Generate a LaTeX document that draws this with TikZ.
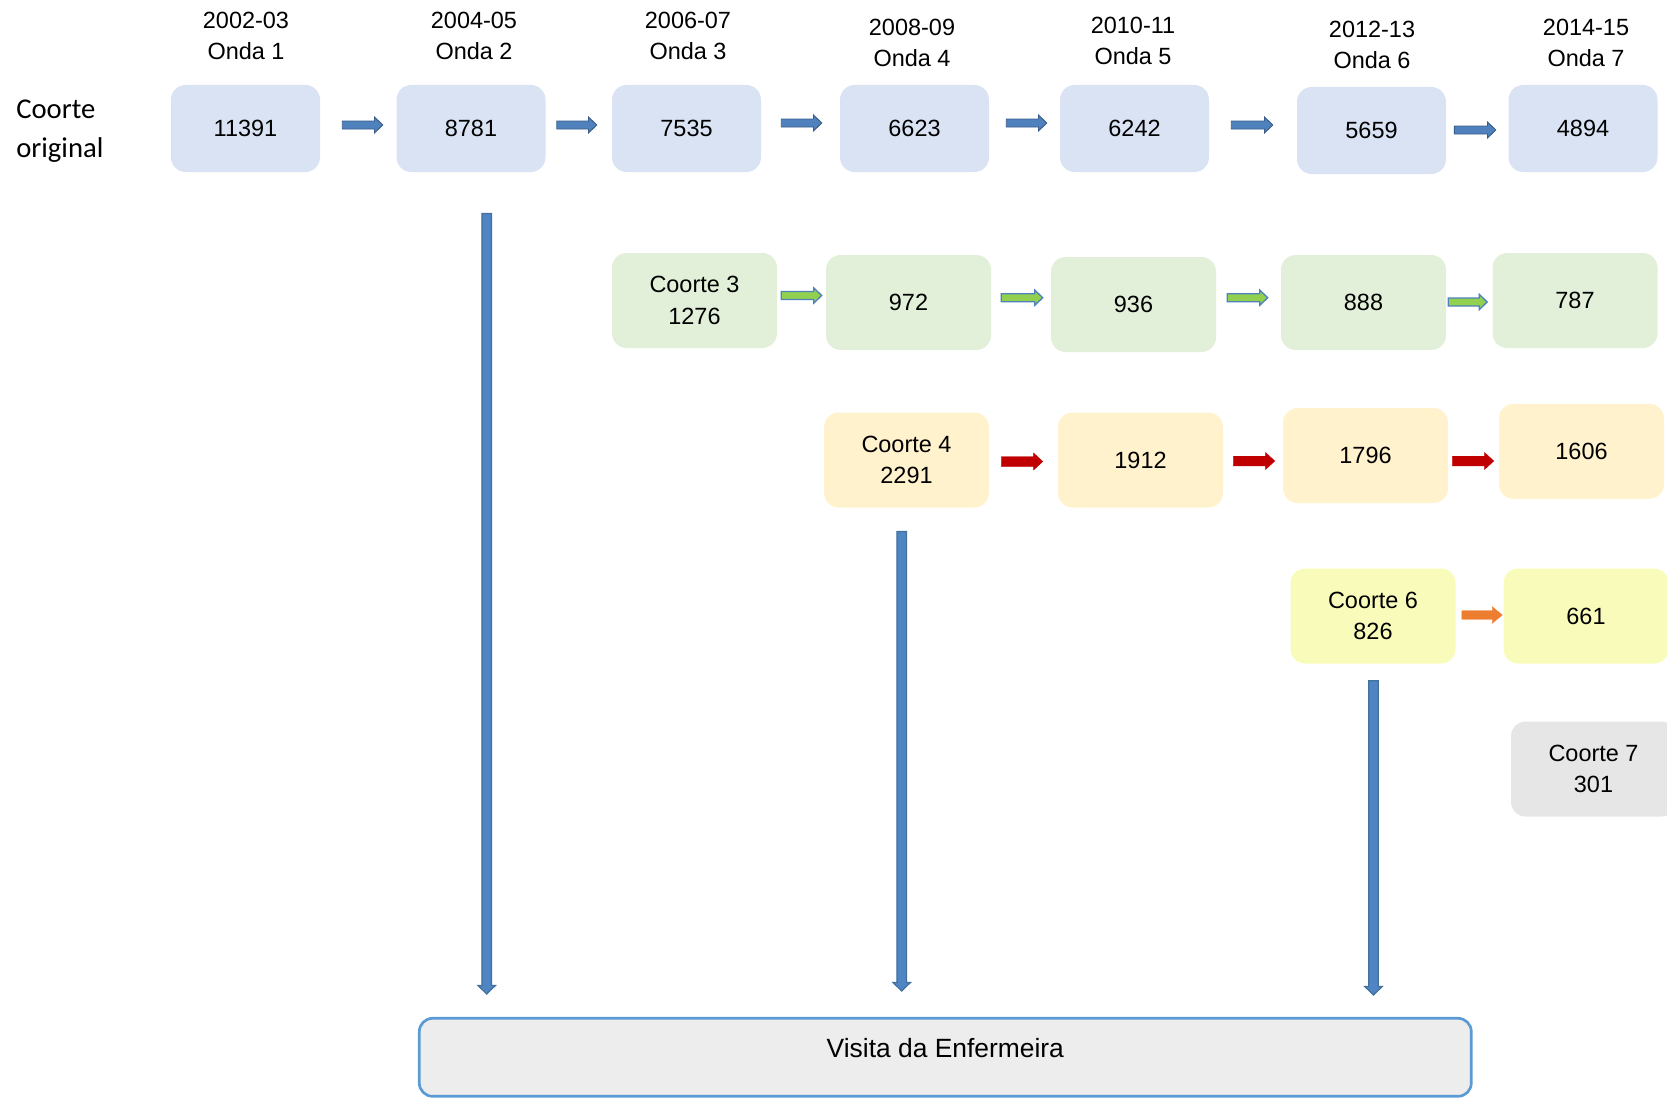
\documentclass[tikz,border=0pt]{standalone}
\usepackage{fontspec}
\setmainfont{Liberation Sans}
\newfontfamily\calib{Carlito}
\usetikzlibrary{calc}
\definecolor{topfill}{HTML}{DAE3F3}
\definecolor{greenfill}{HTML}{E2F0D9}
\definecolor{orangefill}{HTML}{FFF2CC}
\definecolor{yellowfill}{HTML}{F8FBB9}
\definecolor{grayfill}{HTML}{E6E6E6}
\definecolor{bottomfill}{HTML}{EDEDED}
\definecolor{bottomline}{HTML}{5B9BD5}
\definecolor{arrblue}{HTML}{4F81BD}
\definecolor{arrbluedark}{HTML}{385D8A}
\definecolor{arrgreen}{HTML}{92D050}
\definecolor{arrred}{HTML}{C00000}
\definecolor{arrorange}{HTML}{ED7D31}
\definecolor{varrfill}{HTML}{5085C4}
\definecolor{varrline}{HTML}{41719C}
\tikzset{
  harr/.style n args={3}{to path={let \p1=(\tikztostart), \p2=(\tikztotarget) in
    (\x1,\y1+#1) -- (\x2-#3,\y1+#1) -- (\x2-#3,\y1+#2) -- (\x2,\y1) -- (\x2-#3,\y1-#2) -- (\x2-#3,\y1-#1) -- (\x1,\y1-#1) -- cycle}},
  varr/.style n args={3}{to path={let \p1=(\tikztostart), \p2=(\tikztotarget) in
    (\x1-#1,\y1) -- (\x1-#1,\y2+#3) -- (\x1-#2,\y2+#3) -- (\x1,\y2) -- (\x1+#2,\y2+#3) -- (\x1+#1,\y2+#3) -- (\x1+#1,\y1) -- cycle}},
  bluearrow/.style={harr={3pt}{6pt}{6.2pt}, fill=arrblue, draw=arrbluedark, line width=0.7pt, line join=miter},
  greenarrow/.style={harr={3pt}{5.7pt}{6pt}, fill=arrgreen, draw=arrblue, line width=1pt, line join=miter},
  redarrow/.style={harr={3.6pt}{6.3pt}{6.8pt}, fill=arrred, draw=arrred, line width=0.3pt},
  orangearrow/.style={harr={3.2pt}{6.2pt}{7.5pt}, fill=arrorange, draw=arrorange, line width=0.3pt},
  downarrow/.style={varr={3.6pt}{6.5pt}{6.3pt}, fill=varrfill, draw=varrline, line width=0.9pt, line join=miter},
  txt/.style={font=\fontsize{17.6pt}{23.8pt}\selectfont, text=black, align=center, inner sep=0pt},
  box/.style={txt, rounded corners=11pt},
  topbox/.style={box, fill=topfill, minimum width=111.75pt, minimum height=65.25pt},
  cbox/.style={box, minimum width=123.75pt, minimum height=71.25pt},
  hdr/.style={txt},
}
\begin{document}
\begin{tikzpicture}[x=0.75pt,y=-0.75pt]
\clip (0,0) rectangle (1667,1099);
\useasboundingbox (0,0) rectangle (1667,1099);

% headers
\node[hdr] (h1) at (246,36) {2002-03\\Onda 1};
\node[hdr] (h2) at (474,36) {2004-05\\Onda 2};
\node[hdr] (h3) at (688,36) {2006-07\\Onda 3};
\node[hdr] (h4) at (912,43) {2008-09\\Onda 4};
\node[hdr] (h5) at (1133,41) {2010-11\\Onda 5};
\node[hdr] (h6) at (1372,45) {2012-13\\Onda 6};
\node[hdr] (h7) at (1586,43) {2014-15\\Onda 7};

\node[anchor=west, align=left, inner sep=0pt, text=black,
      font=\calib\fontsize{21.5pt}{28.8pt}\selectfont] (co) at (16,131) {Coorte\\original};

% original cohort row
\node[topbox] (t1) at (245.5,128.5) {11391};
\node[topbox] (t2) at (471,128.5) {8781};
\node[topbox] (t3) at (686.5,128.5) {7535};
\node[topbox] (t4) at (914.5,128.5) {6623};
\node[topbox] (t5) at (1134.5,128.5) {6242};
\node[topbox] (t6) at (1371.5,130.5) {5659};
\node[topbox] (t7) at (1583,128.5) {4894};

% cohort 3 row
\node[cbox, fill=greenfill] (g3) at (694.5,300.5) {Coorte 3\\1276};
\node[cbox, fill=greenfill] (g4) at (908.5,302.5) {972};
\node[cbox, fill=greenfill] (g5) at (1133.5,304.5) {936};
\node[cbox, fill=greenfill] (g6) at (1363.5,302.5) {888};
\node[cbox, fill=greenfill] (g7) at (1575,300.5) {787};

% cohort 4 row
\node[cbox, fill=orangefill] (o4) at (906.5,460) {Coorte 4\\2291};
\node[cbox, fill=orangefill] (o5) at (1140.5,460) {1912};
\node[cbox, fill=orangefill] (o6) at (1365.5,455.5) {1796};
\node[cbox, fill=orangefill] (o7) at (1581.5,451.3) {1606};

% cohort 6 row
\node[cbox, fill=yellowfill] (y6) at (1373,616) {Coorte 6\\826};
\node[cbox, fill=yellowfill] (y7) at (1586,616) {661};

% cohort 7
\node[cbox, fill=grayfill] (c7) at (1593.5,769) {Coorte 7\\301};

% bottom box
\node[txt, font=\fontsize{19.8pt}{24pt}\selectfont, fill=bottomfill, draw=bottomline,
      line width=2pt, rounded corners=10pt, minimum width=789pt, minimum height=58.5pt,
      text height=10pt, text depth=10pt] (nb) at (945.3,1057.3) {Visita da Enfermeira};

% horizontal arrows, original cohort
\draw[bluearrow] ($(t1.east)+(22,-3.5)$) to ($(t2.west)+(-13.5,0)$);
\draw[bluearrow] ($(t2.east)+(11,-3.5)$) to ($(t3.west)+(-15,0)$);
\draw[bluearrow] ($(t3.east)+(20,-5.5)$) to ($(t4.west)+(-18,0)$);
\draw[bluearrow] ($(t4.east)+(17,-5.5)$) to ($(t5.west)+(-13,0)$);
\draw[bluearrow] ($(t5.east)+(22,-3.5)$) to ($(t6.west)+(-24,0)$);
\draw[bluearrow] ($(t6.east)+(8,-0.5)$) to ($(t7.west)+(-12.5,0)$);

% cohort 3 arrows
\draw[greenarrow] ($(g3.east)+(4,-5)$) to ($(g4.west)+(-4,0)$);
\draw[greenarrow] ($(g4.east)+(10,-4.8)$) to ($(g5.west)+(-8,0)$);
\draw[greenarrow] ($(g5.east)+(11,-6.8)$) to ($(g6.west)+(-13,0)$);
\draw[greenarrow] ($(g6.east)+(2,-0.5)$) to ($(g7.west)+(-5,0)$);

% cohort 4 arrows
\draw[redarrow] ($(o4.east)+(12,1.5)$) to ($(o5.west)+(-15,0)$);
\draw[redarrow] ($(o5.east)+(10,1)$) to ($(o6.west)+(-8,0)$);
\draw[redarrow] ($(o6.east)+(4,5.5)$) to ($(o7.west)+(-5,0)$);

% cohort 6 arrow
\draw[orangearrow] ($(y6.east)+(6,-1)$) to ($(y7.west)+(-1,0)$);

% vertical arrows
\draw[downarrow] ($(t2.south)+(15.7,41.3)$) to ($(nb.north)+(0,-23)$);
\draw[downarrow] ($(o4.south)+(-4.8,23.7)$) to ($(nb.north)+(0,-26)$);
\draw[downarrow] ($(y6.south)+(0.5,17)$) to ($(nb.north)+(0,-22)$);
\end{tikzpicture}
\end{document}
